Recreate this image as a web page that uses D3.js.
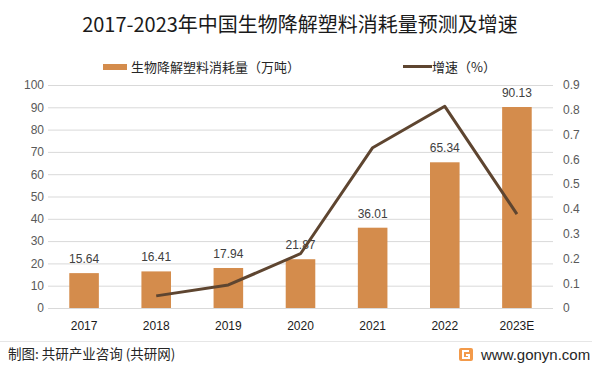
<!DOCTYPE html>
<html>
<head>
<meta charset="utf-8">
<script src="https://cdn.jsdelivr.net/npm/d3@7"></script>
<style>
  body { margin: 0; background: #fff; }
  text { font-family: "Noto Sans CJK SC", "Noto Sans", sans-serif; }
</style>
</head>
<body>
<script>
  // data
  var years = ["2017", "2018", "2019", "2020", "2021", "2022", "2023E"];
  var usage = [15.64, 16.41, 17.94, 21.87, 36.01, 65.34, 90.13];
  var growth = [null, 0.049, 0.093, 0.219, 0.647, 0.814, 0.379];
  var leftTicks = [0, 10, 20, 30, 40, 50, 60, 70, 80, 90, 100];
  var rightTicks = [0, 0.1, 0.2, 0.3, 0.4, 0.5, 0.6, 0.7, 0.8, 0.9];

  var W = 601, H = 372;
  var barColor = "#d48c4c", lineColor = "#5e4530";

  var svg = d3.select("body").append("svg")
    .attr("width", W)
    .attr("height", H);

  svg.append("rect").attr("width", W).attr("height", H).attr("fill", "#fff");

  var x = d3.scaleBand().domain(years).range([48, 553]).paddingInner(0.59).paddingOuter(0.295);
  var yL = d3.scaleLinear().domain([0, 100]).range([308, 85]);
  var yR = d3.scaleLinear().domain([0, 0.9]).range([308, 85]);

  // gridlines
  svg.append("g").selectAll("line")
    .data(leftTicks)
    .enter().append("line")
    .attr("x1", 48).attr("x2", 553)
    .attr("y1", function(d) { return yL(d) + 0.5; })
    .attr("y2", function(d) { return yL(d) + 0.5; })
    .attr("stroke", "#d9d9d9")
    .attr("stroke-width", 1);

  // left axis
  var axL = svg.append("g")
    .attr("transform", "translate(44,0)")
    .call(d3.axisLeft(yL).tickValues(leftTicks).tickSize(0).tickPadding(0));
  axL.select(".domain").remove();
  axL.selectAll("text")
    .attr("font-size", 12).attr("fill", "#595959")
    .style("font-family", "'Liberation Sans', sans-serif");

  // right axis
  var axR = svg.append("g")
    .attr("transform", "translate(563,0)")
    .call(d3.axisRight(yR).tickValues(rightTicks).tickSize(0).tickPadding(0)
      .tickFormat(function(d) { return d === 0 ? "0" : d3.format(".1f")(d); }));
  axR.select(".domain").remove();
  axR.selectAll("text")
    .attr("font-size", 12).attr("fill", "#595959")
    .style("font-family", "'Liberation Sans', sans-serif");

  // bars
  svg.append("g").selectAll("rect")
    .data(usage)
    .enter().append("rect")
    .attr("x", function(d, i) { return x(years[i]); })
    .attr("y", function(d) { return yL(d); })
    .attr("width", x.bandwidth())
    .attr("height", function(d) { return yL(0) - yL(d); })
    .attr("fill", barColor);

  // bar labels
  svg.append("g").selectAll("text")
    .data(usage)
    .enter().append("text")
    .attr("x", function(d, i) { return x(years[i]) + x.bandwidth() / 2; })
    .attr("y", function(d) { return yL(d) - 10; })
    .attr("text-anchor", "middle")
    .attr("font-size", 12)
    .attr("fill", "#404040")
    .style("font-family", "'Liberation Sans', sans-serif")
    .text(function(d) { return d3.format(".2f")(d); });

  // category labels
  svg.append("g").selectAll("text")
    .data(years)
    .enter().append("text")
    .attr("x", function(d) { return x(d) + x.bandwidth() / 2; })
    .attr("y", 330)
    .attr("text-anchor", "middle")
    .attr("font-size", 12)
    .attr("fill", "#1a1a1a")
    .style("font-family", "'Liberation Sans', sans-serif")
    .text(function(d) { return d; });

  // growth line
  var line = d3.line()
    .defined(function(d) { return d != null; })
    .x(function(d, i) { return x(years[i]) + x.bandwidth() / 2; })
    .y(function(d) { return yR(d); });

  svg.append("path")
    .datum(growth)
    .attr("d", line)
    .attr("fill", "none")
    .attr("stroke", lineColor)
    .attr("stroke-width", 3)
    .attr("stroke-linejoin", "round");

  // title
  svg.append("text")
    .attr("x", 300).attr("y", 32)
    .attr("text-anchor", "middle")
    .attr("font-size", 20)
    .attr("fill", "#1a1a1a")
    .text("2017-2023年中国生物降解塑料消耗量预测及增速");

  // legend
  svg.append("rect")
    .attr("x", 103).attr("y", 64).attr("width", 24).attr("height", 6)
    .attr("fill", barColor);
  svg.append("text")
    .attr("x", 131).attr("y", 72)
    .attr("font-size", 13).attr("fill", "#262626")
    .text("生物降解塑料消耗量（万吨）");
  svg.append("line")
    .attr("x1", 403).attr("x2", 432).attr("y1", 66.5).attr("y2", 66.5)
    .attr("stroke", lineColor).attr("stroke-width", 3);
  svg.append("text")
    .attr("x", 432).attr("y", 72)
    .attr("font-size", 13).attr("fill", "#262626")
    .text("增速（%）");

  // footer
  svg.append("line")
    .attr("x1", 0).attr("x2", 592).attr("y1", 341.5).attr("y2", 341.5)
    .attr("stroke", "#e6e6e6").attr("stroke-width", 1);
  svg.append("text")
    .attr("x", 8).attr("y", 359)
    .attr("font-size", 13.5).attr("fill", "#262626")
    .text("制图: 共研产业咨询 (共研网)");

  var logo = svg.append("g").attr("transform", "translate(459,348)");
  logo.append("rect").attr("width", 14).attr("height", 13).attr("rx", 2).attr("fill", "#f39a4a");
  logo.append("path")
    .attr("d", "M10,3 H4 V10 H10 V7 H7")
    .attr("fill", "none").attr("stroke", "#fff").attr("stroke-width", 2);

  svg.append("text")
    .attr("x", 481).attr("y", 359.5)
    .attr("font-size", 15).attr("fill", "#262626")
    .style("font-family", "'Liberation Sans', sans-serif")
    .text("www.gonyn.com");
</script>
</body>
</html>
